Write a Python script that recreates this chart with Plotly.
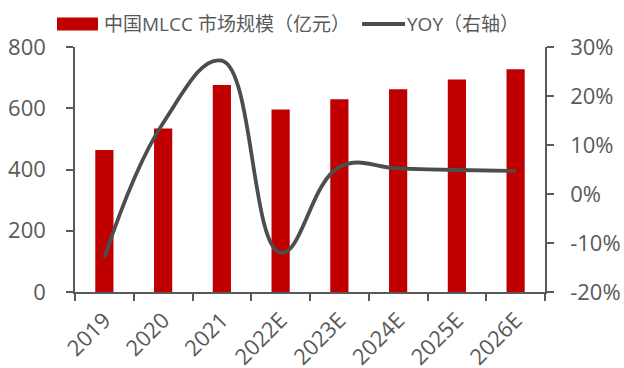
import plotly.graph_objects as go

# China MLCC market size (100M CNY) and year-over-year growth
years = ["2019", "2020", "2021", "2022E", "2023E", "2024E", "2025E", "2026E"]
market_size = [464, 534, 676, 596, 629, 662, 694, 727]
yoy = [-0.13, 0.145, 0.272, -0.12, 0.055, 0.052, 0.049, 0.047]

left_ticks = [0, 200, 400, 600, 800]
right_ticks = [-0.2, -0.1, 0.0, 0.1, 0.2, 0.3]
right_labels = ["-20%", "-10%", "0%", "10%", "20%", "30%"]

W, H = 624, 368
ML, MR, MT, MB = 75, 79, 47, 76
PW, PH = W - ML - MR, H - MT - MB

BAR = "#C00000"
LINE = "#4D4D4D"
TXT = "#595959"
FONT = "Open Sans, Noto Sans CJK SC, sans-serif"
FS_TICK = 22
FS_LEG = 19


def px(x):
    return (x - ML) / PW


def py(y):
    return (H - MB - y) / PH


fig = go.Figure()
fig.add_trace(go.Bar(
    x=years, y=market_size, name="中国MLCC 市场规模（亿元）",
    marker=dict(color=BAR, line=dict(width=0)), showlegend=False,
))
fig.add_trace(go.Scatter(
    x=years, y=yoy, name="YOY（右轴）", yaxis="y2", mode="lines",
    line=dict(color=LINE, width=3.8, shape="spline", smoothing=1.2),
    showlegend=False,
))

# legend drawn by hand so the swatches are wide rectangles / long strokes
fig.add_shape(type="rect", xref="paper", yref="paper",
              x0=px(57), x1=px(98), y0=py(30.5), y1=py(17.5),
              fillcolor=BAR, line=dict(width=0))
fig.add_annotation(xref="paper", yref="paper", x=px(102), y=py(24),
                   xanchor="left", yanchor="middle", showarrow=False,
                   text="中国MLCC 市场规模（亿元）",
                   font=dict(family=FONT, size=FS_LEG, color=TXT))
fig.add_shape(type="line", xref="paper", yref="paper",
              x0=px(362), x1=px(405), y0=py(24), y1=py(24),
              line=dict(color=LINE, width=3.8))
fig.add_annotation(xref="paper", yref="paper", x=px(405), y=py(24),
                   xanchor="left", yanchor="middle", showarrow=False,
                   text="YOY（右轴）",
                   font=dict(family=FONT, size=FS_LEG, color=TXT))

axis_common = dict(
    ticks="outside", ticklen=7, tickwidth=1.5, tickcolor=TXT,
    showline=True, linecolor=TXT, linewidth=1.5,
    showgrid=False, zeroline=False, automargin=False,
    tickfont=dict(family=FONT, size=FS_TICK, color=TXT),
)

fig.update_layout(
    width=W, height=H,
    margin=dict(l=ML, r=MR, t=MT, b=MB, pad=0),
    paper_bgcolor="white", plot_bgcolor="white",
    font=dict(family=FONT, size=FS_TICK, color=TXT),
    bargap=0.69,
    xaxis=dict(type="category", tickangle=-45, tickson="boundaries",
               ticklabelstandoff=5, **axis_common),
    yaxis=dict(range=[0, 800], tickvals=left_ticks,
               ticklabelstandoff=16, **axis_common),
    yaxis2=dict(range=[-0.2, 0.3], tickvals=right_ticks,
                ticktext=right_labels, overlaying="y", side="right",
                ticklabelstandoff=12, **axis_common),
)

fig.write_html("out.html")
